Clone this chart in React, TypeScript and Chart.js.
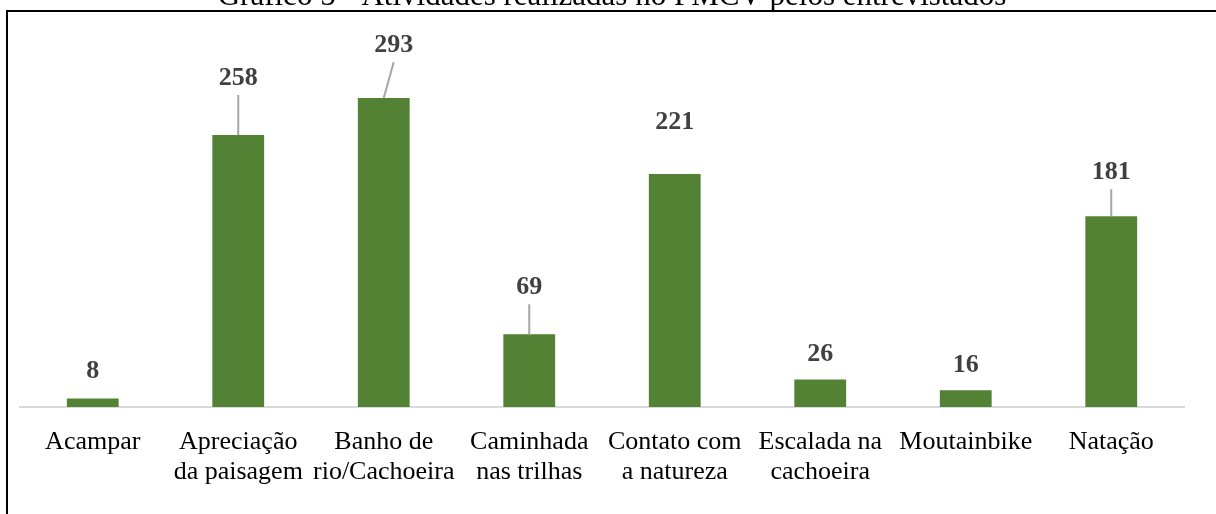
import React, { useEffect, useRef } from "react";
import { Chart, registerables } from "chart.js";

Chart.register(...registerables);

const categories: (string | string[])[] = [
  "Acampar",
  ["Apreciação", "da paisagem"],
  ["Banho de", "rio/Cachoeira"],
  ["Caminhada", "nas trilhas"],
  ["Contato com", "a natureza"],
  ["Escalada na", "cachoeira"],
  "Moutainbike",
  "Natação",
];

const values: number[] = [8, 258, 293, 69, 221, 26, 16, 181];

const titleText = "Gráfico 5 - Atividades realizadas no PMCV pelos entrevistados";

// label placement (style): offset of label centre above bar top, horizontal shift, leader line
const labelStyle = [
  { dy: 27, dx: 0, leader: false },
  { dy: 57, dx: 0, leader: true },
  { dy: 53, dx: 10, leader: true },
  { dy: 47, dx: 0, leader: true },
  { dy: 52, dx: 0, leader: false },
  { dy: 25, dx: 0, leader: false },
  { dy: 25, dx: 0, leader: false },
  { dy: 44, dx: 0, leader: true },
];

const framePlugin = {
  id: "frameTitle",
  beforeDraw(chart: any) {
    const ctx = chart.ctx;
    ctx.save();
    ctx.fillStyle = "#ffffff";
    ctx.fillRect(0, 0, chart.width, chart.height);
    ctx.strokeStyle = "#000000";
    ctx.lineWidth = 2;
    ctx.beginPath();
    ctx.moveTo(7, chart.height + 2);
    ctx.lineTo(7, 11);
    ctx.lineTo(chart.width + 2, 11);
    ctx.stroke();
    ctx.fillStyle = "#000000";
    ctx.font = '31px "Liberation Serif"';
    ctx.textAlign = "center";
    ctx.textBaseline = "alphabetic";
    ctx.fillText(titleText, 612, 5);
    ctx.restore();
  },
};

const labelPlugin = {
  id: "barLabels",
  afterDatasetsDraw(chart: any) {
    const ctx = chart.ctx;
    const meta = chart.getDatasetMeta(0);
    ctx.save();
    ctx.font = 'bold 26px "Liberation Serif"';
    ctx.textAlign = "center";
    ctx.textBaseline = "middle";
    meta.data.forEach((bar: any, i: number) => {
      const st = labelStyle[i];
      const lx = bar.x + st.dx;
      const ly = bar.y - st.dy;
      if (st.leader) {
        ctx.strokeStyle = "#a6a6a6";
        ctx.lineWidth = 2;
        ctx.beginPath();
        ctx.moveTo(lx, ly + 17);
        ctx.lineTo(bar.x, bar.y);
        ctx.stroke();
      }
      ctx.fillStyle = "#404040";
      ctx.fillText(String(values[i]), lx, ly);
    });
    ctx.restore();
  },
};

export default function App() {
  const ref = useRef<HTMLCanvasElement | null>(null);
  useEffect(() => {
    if (!ref.current) return;
    const chart = new Chart(ref.current, {
      type: "bar",
      data: {
        labels: categories,
        datasets: [
          {
            data: values,
            backgroundColor: "#548235",
            borderWidth: 0,
            barPercentage: 1,
            categoryPercentage: 0.356,
          },
        ],
      },
      options: {
        animation: false,
        responsive: false,
        devicePixelRatio: 1,
        layout: { padding: { left: 20, right: 32, top: 38, bottom: 0 } },
        plugins: {
          legend: { display: false },
          title: { display: false },
          tooltip: { enabled: false },
        },
        scales: {
          x: {
            grid: { display: false },
            border: { display: true, color: "#d9d9d9", width: 2 },
            ticks: {
              color: "#000000",
              font: { family: '"Liberation Serif"', size: 26, lineHeight: 1.15 },
              padding: 12,
              maxRotation: 0,
              autoSkip: false,
            },
            afterFit: (scale: any) => {
              scale.height = 107;
            },
          },
          y: {
            display: false,
            min: 0,
            max: 350,
          },
        },
      },
      plugins: [framePlugin, labelPlugin],
    });
    return () => chart.destroy();
  }, []);
  return (
    <div style={{ position: "fixed", left: 0, top: 0, width: 1216, height: 514, background: "#fff" }}>
      <canvas ref={ref} width={1216} height={514} style={{ width: 1216, height: 514, display: "block" }} />
    </div>
  );
}
